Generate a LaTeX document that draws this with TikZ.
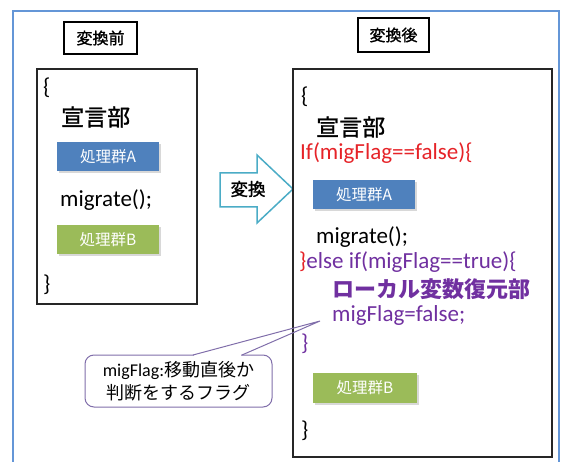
\documentclass[tikz,border=0pt]{standalone}
\usepackage{fontspec}
\setmainfont{Carlito}
\newfontfamily\cjk{Noto Sans CJK JP}
\newfontfamily\cjkm[FakeBold=1.2]{Noto Sans CJK JP}
\usetikzlibrary{shadows}
\definecolor{frameblue}{RGB}{100,150,215}
\definecolor{boxblue}{RGB}{79,129,189}
\definecolor{boxgreen}{RGB}{155,187,89}
\definecolor{codered}{RGB}{230,35,40}
\definecolor{codepurple}{RGB}{112,48,160}
\definecolor{arrowblue}{RGB}{75,172,198}
\definecolor{callcol}{RGB}{128,110,170}
\tikzset{
  frameline/.style={draw=frameblue, line width=1.5pt},
  titlebox/.style={draw=black, line width=1.2pt, fill=white, inner sep=0pt, font=\cjkm\fontsize{16}{18}\selectfont},
  codebox/.style={draw=black!85, line width=1.5pt, fill=white, inner sep=0pt,
    drop shadow={shadow xshift=1pt, shadow yshift=-1.2pt, opacity=0.35}},
  code/.style={anchor=west, inner sep=0pt, font=\fontsize{23}{25}\selectfont},
  jp/.style={anchor=west, inner sep=0pt, font=\cjkm\fontsize{23}{25}\selectfont},
  jpb/.style={anchor=west, inner sep=0pt, font=\cjk\bfseries\fontsize{22}{24}\selectfont},
  procbox/.style={minimum width=102pt, minimum height=29pt, inner sep=0pt, text=white,
    font=\cjk\fontsize{15.5}{17}\selectfont,
    drop shadow={shadow xshift=1.5pt, shadow yshift=-2pt, opacity=0.3}},
  convarrow/.style={draw=arrowblue, line width=1.5pt, fill=white, line join=miter},
  callbox/.style={draw=callcol, line width=1pt, fill=white, rounded corners=9pt,
    minimum width=187pt, minimum height=52pt, inner sep=0pt, align=center,
    font=\fontsize{18}{23}\selectfont},
  callline/.style={draw=callcol, line width=1pt}
}
\begin{document}
\begin{tikzpicture}[x=1pt,y=-1pt]
\useasboundingbox (0,0) rectangle (562,462);
% outer frame
\draw[frameline] (13,462) -- (13,11) -- (559,11) -- (559,462);
% titles
\node[titlebox, minimum width=73pt, minimum height=32pt] (t1) at (100.5,38) {変換前};
\node[titlebox, minimum width=71pt, minimum height=34pt] (t2) at (393.5,35) {変換後};
% left box
\node[codebox, minimum width=160pt, minimum height=235pt] (lb) at (117,186.5) {};
\node[code] (lo) at (43,88) {\{};
\node[jp] (ld) at (61,117) {宣言部};
\node[procbox, fill=boxblue] (la) at (108,156.5) {処理群A};
\node[code] (lm) at (60,200) {migrate();};
\node[procbox, fill=boxgreen] (lbb) at (108,239.5) {処理群B};
\node[code] (lc) at (43,285) {\}};
% arrow
\draw[convarrow] (220,173) -- (257,173) -- (257,155) -- (293,189) -- (257,223) -- (257,207) -- (220,207) -- cycle;
\node[inner sep=0pt, font=\cjkm\fontsize{17.5}{19}\selectfont] (conv) at (248,189) {変換};
% right box
\node[codebox, minimum width=259pt, minimum height=388pt] (rb) at (422.5,263) {};
\node[code] (ro) at (301,97) {\{};
\node[jp] (rd) at (316,127) {宣言部};
\node[code, text=codered] (rif) at (300,153) {If(migFlag==false)\{};
\node[procbox, fill=boxblue] (ra) at (364,195) {処理群A};
\node[code] (rm) at (316,237) {migrate();};
\node[code, text=codepurple] (relse) at (299,262) {{\color{codered}\}}else if(migFlag==true)\{};
\node[jpb, text=codepurple] (rloc) at (332,289) {ローカル変数復元部};
\node[code, text=codepurple] (rflag) at (332,315) {migFlag=false;};
\node[code, text=codepurple] (rcl) at (301,344) {\}};
\node[procbox, fill=boxgreen, minimum width=104pt, minimum height=30pt] (rbb) at (365,388) {処理群B};
\node[code] (rc) at (301,431) {\}};
% callout
\node[callbox] (cl) at (178.5,381) {migFlag:{\cjk 移動直後か}\\{\cjk 判断をするフラグ}};
\coordinate (tip) at (320,321);
\coordinate (pb1) at (193,355);
\coordinate (pb2) at (242,355);
\fill[white] (194,353.5) rectangle (241,356.5);
\draw[callline] (pb1) -- (tip) -- (pb2);
\end{tikzpicture}
\end{document}
